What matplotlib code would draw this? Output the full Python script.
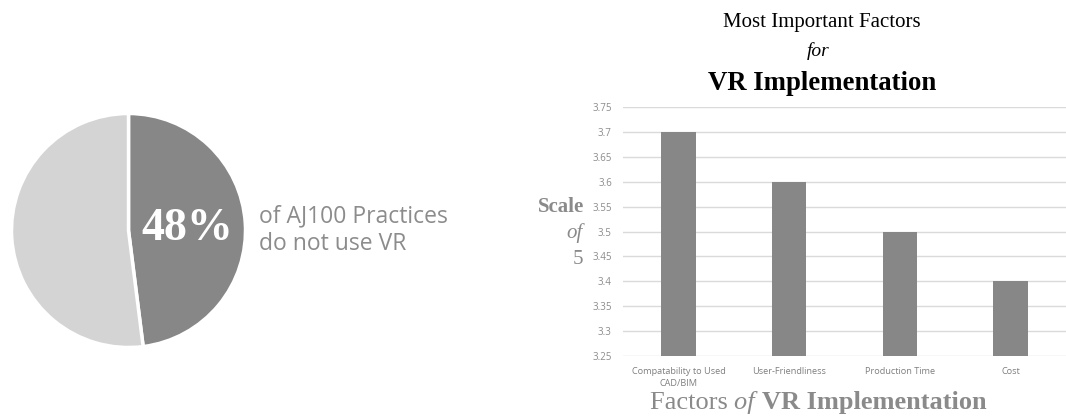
import matplotlib
matplotlib.use("Agg")
import matplotlib.pyplot as plt

# data
pie_labels = ["do not use VR", "use VR"]
pie_values = [48, 52]
factors = ["Compatability to Used\nCAD/BIM", "User-Friendliness", "Production Time", "Cost"]
scores = [3.7, 3.6, 3.5, 3.4]
yticks = [3.25, 3.3, 3.35, 3.4, 3.45, 3.5, 3.55, 3.6, 3.65, 3.7, 3.75]

W, H = 1066, 416
fig = plt.figure(figsize=(W / 100, H / 100), dpi=100)
fig.patch.set_facecolor("white")

def fx(x):
    return x / W

def fy(y):
    return 1 - y / H

serif = "Liberation Serif"
gray_txt = "#8a8a8a"

# ---- pie on the left ----
cx, cy, r = 128.5, 230.5, 117
ax_pie = fig.add_axes([fx(cx - r), fy(cy + r), 2 * r / W, 2 * r / H])
ax_pie.pie(pie_values, colors=["#878787", "#d4d4d4"], startangle=90,
           counterclock=False,
           wedgeprops=dict(edgecolor="white", linewidth=2.5))
ax_pie.set_xlim(-1, 1)
ax_pie.set_ylim(-1, 1)
ax_pie.set_aspect("equal")
ax_pie.axis("off")

fig.text(fx(187), fy(229), "48%", color="white", fontsize=33, fontweight="bold",
         family=serif, ha="center", va="center")
fig.text(fx(259), fy(230), "of AJ100 Practices\ndo not use VR", color="#8c8c8c",
         fontsize=16.5, family="Open Sans", ha="left", va="center", linespacing=1.2)

# ---- bar chart on the right ----
ax = fig.add_axes([fx(623), fy(356), (W - 623) / W, (356 - 107) / H])
x = range(len(factors))
ax.bar(x, scores, width=0.31, color="#878787", zorder=3)
ax.set_xlim(-0.5, len(factors) - 0.5)
ax.set_ylim(3.25, 3.75)
ax.set_yticks(yticks)
ax.set_yticklabels([f"{v:g}" for v in yticks])
ax.yaxis.grid(True, color="#dadada", linewidth=1, zorder=0)
ax.set_xticks(list(x))
ax.set_xticklabels(factors, linespacing=1.4)
for s in ax.spines.values():
    s.set_visible(False)
ax.tick_params(axis="y", length=0, pad=8, labelsize=7, labelcolor="#8c8c8c")
ax.tick_params(axis="x", length=0, pad=8, labelsize=6.6, labelcolor="#7f7f7f")
for lbl in ax.get_xticklabels() + ax.get_yticklabels():
    lbl.set_family("Open Sans")

# titles
fig.text(fx(822), fy(22), "Most Important Factors", fontsize=15, family=serif,
         ha="center", va="center", color="black")
fig.text(fx(818), fy(51), "for", fontsize=14, family=serif, style="italic",
         ha="center", va="center", color="black")
fig.text(fx(822), fy(83), "VR Implementation", fontsize=19.3, family=serif,
         fontweight="bold", ha="center", va="center", color="black")

# y label
fig.text(fx(584), fy(207), "Scale", fontsize=15, family=serif, fontweight="bold",
         ha="right", va="center", color=gray_txt)
fig.text(fx(583), fy(233), "of", fontsize=15, family=serif, style="italic",
         ha="right", va="center", color=gray_txt)
fig.text(fx(583), fy(259), "5", fontsize=15, family=serif,
         ha="right", va="center", color=gray_txt)

# x label, mixed styles
t1 = fig.text(fx(650), fy(414), "Factors ", fontsize=19, family=serif,
              ha="left", va="bottom", color=gray_txt)
t2 = plt.annotate("of ", xy=(1, 0), xycoords=t1, fontsize=19, family=serif,
                  style="italic", color=gray_txt, ha="left", va="bottom",
                  annotation_clip=False)
t3 = plt.annotate("VR Implementation", xy=(1, 0), xycoords=t2, fontsize=19,
                  family=serif, fontweight="bold", color=gray_txt, ha="left",
                  va="bottom", annotation_clip=False)

fig.savefig("out.png", dpi=100, facecolor="white")
